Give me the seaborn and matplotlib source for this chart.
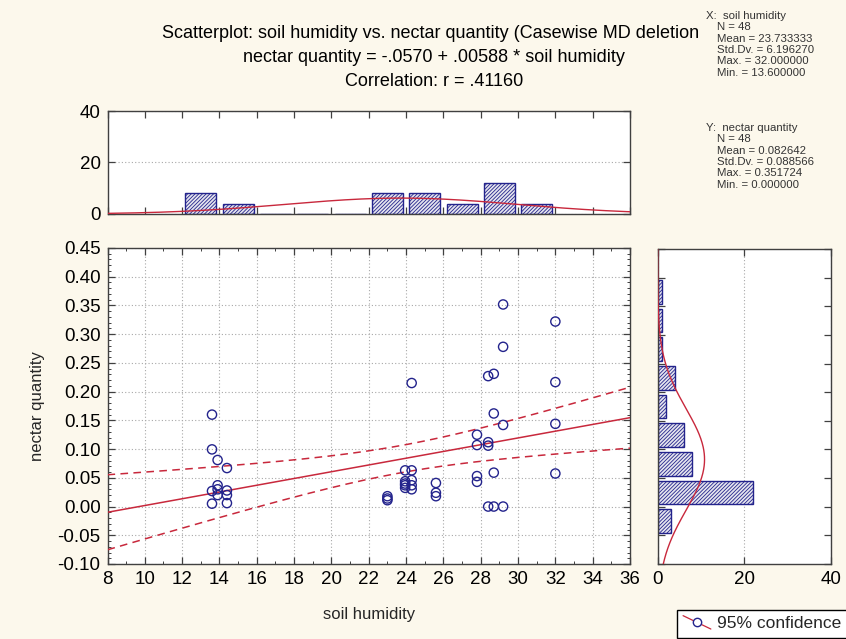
import numpy as np
import pandas as pd
import matplotlib
matplotlib.use("Agg")
import matplotlib.pyplot as plt
from matplotlib.legend_handler import HandlerBase
from matplotlib.lines import Line2D
from matplotlib.ticker import MultipleLocator, FormatStrFormatter, NullFormatter
from matplotlib.transforms import Bbox, TransformedBbox
import seaborn as sns

# ---- data -------------------------------------------------------------
soil_humidity = [
    13.6, 13.6, 13.6, 13.6,
    13.9, 13.9, 13.9, 13.9,
    14.4, 14.4, 14.4, 14.4,
    23.0, 23.0, 23.0,
    23.95, 23.95, 23.95, 23.95, 23.95,
    24.3, 24.3, 24.3, 24.3, 24.3,
    25.6, 25.6, 25.6,
    27.8, 27.8, 27.8, 27.8,
    28.4, 28.4, 28.4, 28.4,
    28.7, 28.7, 28.7, 28.7,
    29.2, 29.2, 29.2, 29.2,
    32.0, 32.0, 32.0, 32.0,
]
nectar_quantity = [
    0.160, 0.0995, 0.027, 0.005,
    0.081, 0.037, 0.030, 0.020,
    0.067, 0.028, 0.020, 0.006,
    0.018, 0.011, 0.014,
    0.063, 0.044, 0.037, 0.0325, 0.040,
    0.215, 0.063, 0.046, 0.037, 0.030,
    0.041, 0.024, 0.018,
    0.125, 0.107, 0.053, 0.043,
    0.227, 0.112, 0.106, 0.0,
    0.231, 0.162, 0.059, 0.0,
    0.351724, 0.278, 0.142, 0.0,
    0.322, 0.2166, 0.144, 0.0575,
]

# summary statistics shown in the header
n_cases = 48
x_mean, x_sd, x_max, x_min = 23.733333, 6.196270, 32.000000, 13.600000
y_mean, y_sd, y_max, y_min = 0.082642, 0.088566, 0.351724, 0.000000
intercept, slope = -0.0570, 0.00588
r_value = 0.41160
t_crit = 2.0129  # t(0.975, df = 46)

x_ticks = list(range(8, 37, 2))
y_ticks = [-0.10, -0.05, 0.00, 0.05, 0.10, 0.15, 0.20, 0.25, 0.30, 0.35, 0.40, 0.45]
count_ticks = [0, 20, 40]
x_bin_edges = [12, 14, 16, 18, 20, 22, 24, 26, 28, 30, 32]
y_bin_edges = [-0.05, 0.00, 0.05, 0.10, 0.15, 0.20, 0.25, 0.30, 0.35, 0.40]

df = pd.DataFrame({"soil humidity": soil_humidity,
                   "nectar quantity": nectar_quantity})

# ---- style ------------------------------------------------------------
BG = "#fcf8ec"
NAVY = "#23238c"
RED = "#c8283c"
BAR_FACE = "#e4e4ee"
SPINE = "#404040"
GRID = "#a8a8a8"

sns.set_theme(style="ticks")
plt.rcParams.update({
    "font.family": ["Liberation Sans", "DejaVu Sans"],
    "axes.unicode_minus": False,
    "hatch.linewidth": 0.6,
    "axes.edgecolor": SPINE,
    "axes.linewidth": 1.0,
    "xtick.color": SPINE,
    "ytick.color": SPINE,
    "xtick.labelcolor": "black",
    "ytick.labelcolor": "black",
})

W, H = 846, 639
fig = plt.figure(figsize=(W / 100, H / 100), dpi=100, facecolor=BG)


def frac_box(left, top, right, bottom):
    return [left / W, 1 - bottom / H, (right - left) / W, (bottom - top) / H]


ax = fig.add_axes(frac_box(107.5, 248, 630, 564))
ax_top = fig.add_axes(frac_box(107.5, 111, 630, 214))
ax_right = fig.add_axes(frac_box(657.7, 249, 831, 564))

for a in (ax, ax_top, ax_right):
    a.set_facecolor("white")
    for s in a.spines.values():
        s.set_visible(True)
        s.set_color(SPINE)
    a.tick_params(which="both", direction="in", top=True, right=True,
                  color=SPINE)
    a.tick_params(which="major", length=5, width=0.9)
    a.tick_params(which="minor", length=2.5, width=0.7)

# ---- main scatter -------------------------------------------------------
sns.scatterplot(data=df, x="soil humidity", y="nectar quantity", ax=ax,
                marker="o", s=44, facecolor="none", edgecolor=NAVY,
                linewidth=1.0, zorder=4, legend=False)

xs = np.linspace(8, 36, 300)
fit = intercept + slope * xs
resid_sd = y_sd * np.sqrt((1 - r_value ** 2) * (n_cases - 1) / (n_cases - 2))
half = t_crit * resid_sd * np.sqrt(1 / n_cases + (xs - x_mean) ** 2 /
                                   ((n_cases - 1) * x_sd ** 2))
ax.plot(xs, fit, color=RED, lw=1.1, zorder=3)
ax.plot(xs, fit + half, color=RED, lw=1.1, dashes=(5, 3.5), zorder=3)
ax.plot(xs, fit - half, color=RED, lw=1.1, dashes=(5, 3.5), zorder=3)

ax.set_xlim(8, 36)
ax.set_ylim(-0.10, 0.45)
ax.set_xticks(x_ticks)
ax.set_yticks(y_ticks)
ax.xaxis.set_minor_locator(MultipleLocator(1))
ax.yaxis.set_minor_locator(MultipleLocator(0.01))
ax.yaxis.set_major_formatter(FormatStrFormatter("%.2f"))
ax.grid(True, which="major", color=GRID, linestyle=(0, (1, 2)), linewidth=0.8)
ax.tick_params(axis="both", which="major", labelsize=13.5, pad=5)
ax.set_xlabel("soil humidity", fontsize=12, labelpad=14)
ax.set_ylabel("nectar quantity", fontsize=12, labelpad=9)

# ---- top marginal histogram --------------------------------------------
sns.histplot(x=soil_humidity, bins=np.array(x_bin_edges) + 1e-6, ax=ax_top,
             shrink=0.83, facecolor=BAR_FACE, edgecolor=NAVY,
             hatch="/////////", linewidth=1.0, alpha=1, zorder=2)
gx = np.linspace(8, 36, 300)
bin_w_x = x_bin_edges[1] - x_bin_edges[0]
norm_x = n_cases * bin_w_x * np.exp(-0.5 * ((gx - x_mean) / x_sd) ** 2) / (x_sd * np.sqrt(2 * np.pi))
ax_top.plot(gx, norm_x, color=RED, lw=1.0, zorder=3)
ax_top.set_xlim(8, 36)
ax_top.set_ylim(0, 40)
ax_top.set_xticks(x_ticks)
ax_top.xaxis.set_major_formatter(NullFormatter())
ax_top.set_yticks(count_ticks)
ax_top.grid(True, axis="y", color=GRID, linestyle=(0, (1, 2)), linewidth=0.8)
ax_top.grid(False, axis="x")
ax_top.tick_params(axis="y", labelsize=13.5, pad=5)
ax_top.set_xlabel("")
ax_top.set_ylabel("")

# ---- right marginal histogram ------------------------------------------
sns.histplot(y=nectar_quantity, bins=np.array(y_bin_edges) + 1e-9, ax=ax_right,
             shrink=0.82, facecolor=BAR_FACE, edgecolor=NAVY,
             hatch="/////////", linewidth=1.0, alpha=1, zorder=2)
gy = np.linspace(-0.10, 0.45, 300)
bin_w_y = y_bin_edges[1] - y_bin_edges[0]
norm_y = n_cases * bin_w_y * np.exp(-0.5 * ((gy - y_mean) / y_sd) ** 2) / (y_sd * np.sqrt(2 * np.pi))
ax_right.plot(norm_y, gy, color=RED, lw=1.0, zorder=3)
ax_right.set_ylim(-0.10, 0.45)
ax_right.set_xlim(0, 40)
ax_right.set_xticks(count_ticks)
ax_right.set_yticks(y_ticks)
ax_right.yaxis.set_major_formatter(NullFormatter())
ax_right.grid(True, axis="x", color=GRID, linestyle=(0, (1, 2)), linewidth=0.8)
ax_right.grid(False, axis="y")
ax_right.tick_params(axis="x", labelsize=13.5, pad=5)
ax_right.set_xlabel("")
ax_right.set_ylabel("")

# ---- header -------------------------------------------------------------
title_clip = TransformedBbox(Bbox([[0, 0], [699 / W, 1]]), fig.transFigure)
header = [
    ("Scatterplot: soil humidity vs. nectar quantity (Casewise MD deletion)", 33),
    (f"nectar quantity = {intercept:.4f} + {slope:.5f} * soil humidity"
     .replace("-0.", "-.").replace(" 0.", " ."), 57),
    (f"Correlation: r = {r_value:.5f}".replace("0.", "."), 81),
]
for txt, ypix in header:
    t = fig.text(434 / W, 1 - ypix / H, txt, ha="center", va="center",
                 fontsize=13, color="black")
    t.set_clip_box(title_clip)
    t.set_clip_on(True)

stat_color = "#333333"


def stats_block(letter, name, stats, top_pix):
    fig.text(706 / W, 1 - top_pix / H, f"{letter}:  {name}", ha="left",
             va="center", fontsize=8.2, color=stat_color)
    for i, line in enumerate(stats, start=1):
        fig.text(717 / W, 1 - (top_pix + 11.3 * i) / H, line, ha="left",
                 va="center", fontsize=8.2, color=stat_color)


stats_block("X", "soil humidity",
            [f"N = {n_cases}", f"Mean = {x_mean:.6f}", f"Std.Dv. = {x_sd:.6f}",
             f"Max. = {x_max:.6f}", f"Min. = {x_min:.6f}"], 16)
stats_block("Y", "nectar quantity",
            [f"N = {n_cases}", f"Mean = {y_mean:.6f}", f"Std.Dv. = {y_sd:.6f}",
             f"Max. = {y_max:.6f}", f"Min. = {y_min:.6f}"], 128)


# ---- legend -------------------------------------------------------------
class DiagonalMarkerHandler(HandlerBase):
    def create_artists(self, legend, orig_handle, xdescent, ydescent,
                       width, height, fontsize, trans):
        x0, x1 = -xdescent, -xdescent + width
        y_hi, y_lo = -ydescent + height * 1.05, -ydescent - height * 0.05
        line = Line2D([x0, x1], [y_hi, y_lo], color=RED, lw=0.9)
        mark = Line2D([(x0 + x1) / 2], [(y_hi + y_lo) / 2], marker="o",
                      markersize=6, markerfacecolor="white",
                      markeredgecolor=NAVY, markeredgewidth=1.0, linestyle="")
        line.set_transform(trans)
        mark.set_transform(trans)
        return [line, mark]


ci_handle = Line2D([], [], color=RED)
leg = fig.legend(handles=[ci_handle], labels=["95% confidence"],
                 handler_map={ci_handle: DiagonalMarkerHandler()},
                 loc="lower left", bbox_to_anchor=(677 / W, 1.5 / H),
                 bbox_transform=fig.transFigure, frameon=True, fancybox=False,
                 edgecolor="black", facecolor="white", framealpha=1,
                 fontsize=12.5, handlelength=1.6, handletextpad=0.35,
                 borderpad=0.35, borderaxespad=0)
leg.get_frame().set_linewidth(1.0)

fig.savefig("out.png", dpi=100, facecolor=BG)
